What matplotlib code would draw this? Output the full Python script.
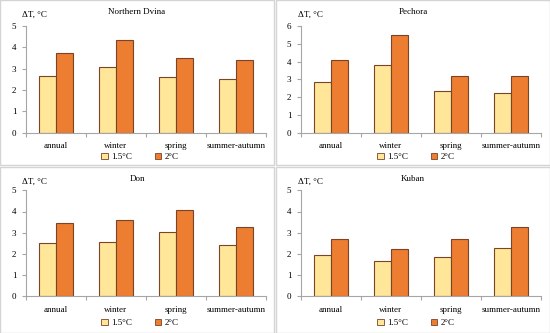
import numpy as np
import matplotlib
matplotlib.use('Agg')
import matplotlib.pyplot as plt
from matplotlib.patches import Rectangle, Patch

plt.rcParams['font.family'] = ['Liberation Serif', 'DejaVu Serif']

seasons = ['annual', 'winter', 'spring', 'summer-autumn']
rivers = ['Northern Dvina', 'Pechora', 'Don', 'Kuban']
# warming for the 1.5 and 2 degree scenarios
dvina_15 = [2.66, 3.06, 2.63, 2.50]
dvina_20 = [3.72, 4.33, 3.50, 3.39]
pechora_15 = [2.85, 3.83, 2.34, 2.21]
pechora_20 = [4.07, 5.48, 3.21, 3.19]
don_15 = [2.50, 2.55, 3.03, 2.40]
don_20 = [3.44, 3.58, 4.07, 3.25]
kuban_15 = [1.93, 1.68, 1.87, 2.30]
kuban_20 = [2.70, 2.23, 2.70, 3.27]
ymax = [5, 6, 5, 5]

data15 = [dvina_15, pechora_15, don_15, kuban_15]
data20 = [dvina_20, pechora_20, don_20, kuban_20]

c15 = '#ffe699'
c20 = '#ed7d31'
edge = '#7a4526'
spine = '#a6a6a6'

W, H = 550, 333
fig = plt.figure(figsize=(5.5, 3.33), dpi=100)

# panel boxes (pixels: x0, y0 top, width, height)
panels = [(0, 0, 274, 165), (276, 0, 274, 165), (0, 167, 274, 166), (276, 167, 274, 166)]
# axes in pixels: left, top(y at ymax), right, bottom(y at 0)
axpix = [(26, 26, 266, 132.7), (301, 26, 541, 132.7), (26, 190.3, 266, 296.3), (301, 190.3, 541, 296.3)]

x = np.arange(len(seasons))
bw = 0.29
for i in range(4):
    px, py, pw, ph = panels[i]
    fig.patches.append(Rectangle((px / W, 1 - (py + ph) / H), pw / W, ph / H,
                                 transform=fig.transFigure, fill=False,
                                 edgecolor='#d4d4d4', linewidth=1))
    l, t, r, b = axpix[i]
    ax = fig.add_axes([l / W, 1 - b / H, (r - l) / W, (b - t) / H])
    ax.bar(x - bw / 2, data15[i], bw, color=c15, edgecolor=edge, linewidth=0.8, label='1.5°C')
    ax.bar(x + bw / 2, data20[i], bw, color=c20, edgecolor=edge, linewidth=0.8, label='2°C')
    ax.set_xlim(-0.5, 3.5)
    ax.set_ylim(0, ymax[i])
    ax.set_yticks(range(ymax[i] + 1))
    ax.set_xticks(x)
    ax.set_xticklabels(seasons)
    ax.set_xticks(np.arange(-0.5, 4, 1), minor=True)
    ax.tick_params(axis='x', which='major', length=0, pad=7, labelsize=6.5)
    ax.tick_params(axis='x', which='minor', length=3, color=spine, width=0.8)
    ax.tick_params(axis='y', length=3, color=spine, width=0.8, pad=4, labelsize=6.5)
    for s in ['top', 'right']:
        ax.spines[s].set_visible(False)
    for s in ['left', 'bottom']:
        ax.spines[s].set_color(spine)
        ax.spines[s].set_linewidth(0.8)
    ax.patch.set_alpha(0)

    fig.text((px + pw / 2) / W, 1 - (py + 12) / H, rivers[i], ha='center', va='center', fontsize=6.5)
    fig.text((px + 22) / W, 1 - (py + 15) / H, 'ΔT, °C', ha='left', va='center', fontsize=6.5)
    handles = [Patch(facecolor=c15, edgecolor=edge, linewidth=0.6),
               Patch(facecolor=c20, edgecolor=edge, linewidth=0.6)]
    ax.legend(handles, ['1.5°C', '2°C'], loc='center', ncol=2, frameon=False,
              bbox_to_anchor=((px + 140) / W, 1 - (py + 157 if i < 2 else py + 156) / H),
              bbox_transform=fig.transFigure, fontsize=6.5, handlelength=0.7,
              handleheight=0.7, handletextpad=0.4, columnspacing=2.5)

fig.savefig('out.png', dpi=100)
